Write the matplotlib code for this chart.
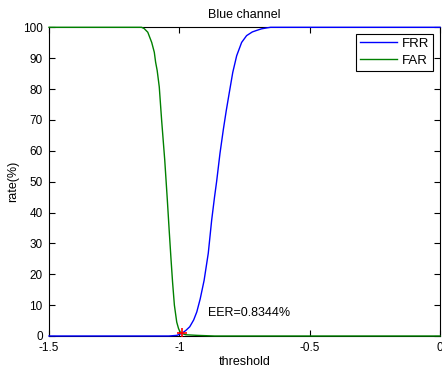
import matplotlib
matplotlib.use("Agg")
import matplotlib.pyplot as plt

plt.rcParams['font.family'] = ['Liberation Sans', 'DejaVu Sans']

title = "Blue channel"
x_label = "threshold"
y_label = "rate(%)"
eer_text = "EER=0.8344%"

# FRR (blue)
frr_x = [-1.5, -1.04, -1.01, -0.991, -0.975, -0.96, -0.945, -0.933, -0.92, -0.905,
         -0.889, -0.876, -0.865, -0.857, -0.844, -0.831, -0.82, -0.808, -0.795, -0.780,
         -0.761, -0.742, -0.72, -0.703, -0.685, -0.665, -0.65, 0.0]
frr_y = [0.0, 0.0, 0.2, 0.83, 1.8, 3.0, 5.2, 7.8, 12.0, 18.0,
         26.8, 37.5, 45.0, 50.0, 59.2, 67.0, 73.0, 79.0, 85.4, 90.8,
         95.1, 97.3, 98.5, 99.0, 99.5, 99.8, 100.0, 100.0]

# FAR (green)
far_x = [-1.5, -1.145, -1.135, -1.121, -1.106, -1.096, -1.091, -1.085, -1.077, -1.068,
         -1.056, -1.046, -1.039, -1.032, -1.026, -1.019, -1.010, -1.003, -0.997, -0.991,
         -0.975, -0.93, -0.865, 0.0]
far_y = [100.0, 100.0, 99.6, 98.4, 95.1, 91.9, 88.7, 86.0, 80.7, 70.0,
         57.0, 44.0, 34.3, 25.0, 17.5, 10.0, 4.5, 2.4, 1.3, 0.83,
         0.4, 0.2, 0.0, 0.0]

eer_x = -0.991
eer_y = 0.8344

x_ticks = [-1.5, -1.0, -0.5, 0.0]
x_tick_labels = ["-1.5", "-1", "-0.5", "0"]
y_ticks = [0, 10, 20, 30, 40, 50, 60, 70, 80, 90, 100]

fig = plt.figure(figsize=(4.42, 3.67), dpi=100)
ax = fig.add_axes([49/442, 31/367, 391/442, 308.7/367])

ax.plot(frr_x, frr_y, color='#0000ff', lw=1.0, label='FRR', zorder=3, clip_on=False)
ax.plot(far_x, far_y, color='#008000', lw=1.0, label='FAR', zorder=3, clip_on=False)
ax.plot([eer_x], [eer_y], marker='+', color='red', ms=7, mew=1.2, ls='none', zorder=4)
ax.text(-0.89, 7.4, eer_text, fontsize=9, va='center', ha='left')

ax.set_xlim(-1.5, 0)
ax.set_ylim(0, 100)
ax.set_xticks(x_ticks)
ax.set_xticklabels(x_tick_labels)
ax.set_yticks(y_ticks)
ax.tick_params(direction='in', top=True, right=True, labelsize=8.5, length=4, pad=4.5)
for s in ax.spines.values():
    s.set_linewidth(0.8)

ax.set_title(title, fontsize=9, pad=7)
ax.set_xlabel(x_label, fontsize=9, labelpad=1.5)
ax.set_ylabel(y_label, fontsize=9, labelpad=3)

leg = ax.legend(loc='upper right', fontsize=9.5, fancybox=False, framealpha=1,
                edgecolor='black', handlelength=2.8, borderaxespad=0.5,
                borderpad=0.3, labelspacing=0.35, handletextpad=0.4)
leg.get_frame().set_linewidth(0.8)

fig.savefig("out.png", dpi=100)
